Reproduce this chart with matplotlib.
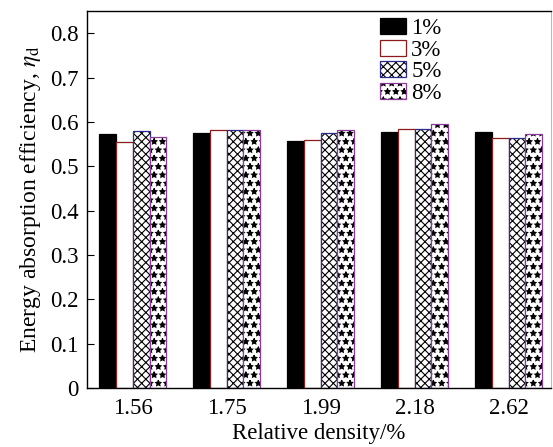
import numpy as np
import matplotlib
matplotlib.use('Agg')
import matplotlib.pyplot as plt

plt.rcParams['font.family'] = ['Liberation Serif', 'DejaVu Serif']
plt.rcParams['mathtext.fontset'] = 'stix'
plt.rcParams['hatch.linewidth'] = 0.8

# data
densities = ['1.56', '1.75', '1.99', '2.18', '2.62']
contents = ['1%', '3%', '5%', '8%']
eff_1 = [0.574, 0.575, 0.557, 0.578, 0.578]
eff_3 = [0.555, 0.583, 0.560, 0.585, 0.564]
eff_5 = [0.580, 0.583, 0.575, 0.585, 0.564]
eff_8 = [0.567, 0.581, 0.583, 0.595, 0.574]
series = [eff_1, eff_3, eff_5, eff_8]

# face, hatch, edge colour per series
styles = [
    ('black', '', 'black'),
    ('white', '', '#8b1a1a'),
    ('white', 'xxxx', '#2b2b8c'),
    ('white', '**', '#8a3a9a'),
]

fig = plt.figure(figsize=(5.53, 4.47), dpi=100)
ax = fig.add_axes([0.157, 0.132, 0.839, 0.843])

x = np.arange(len(densities))
w = 0.178
handles = []
for i, (vals, (fc, hatch, ec)) in enumerate(zip(series, styles)):
    pos = x + (i - 1.5) * w
    # hatch drawn in black, coloured outline drawn on top
    b1 = ax.bar(pos, vals, w, color=fc, hatch=hatch, edgecolor='black', linewidth=0)
    b2 = ax.bar(pos, vals, w, fill=False, edgecolor=ec, linewidth=0.9)
    handles.append((b1[0], b2[0]))

ax.set_xlim(-0.49, 4.45)
ax.set_ylim(0, 0.85)
ax.set_yticks(np.arange(0, 0.81, 0.1))
ax.set_yticklabels(['0'] + ['%.1f' % v for v in np.arange(0.1, 0.81, 0.1)])
ax.set_xticks(x)
ax.set_xticklabels(densities)
ax.tick_params(axis='y', direction='in', length=5, labelsize=16.5, pad=6)
ax.tick_params(axis='x', length=0, labelsize=16.5, pad=7)
ax.spines['right'].set_color('#bbbbbb')
for s in ['left', 'bottom', 'top']:
    ax.spines[s].set_linewidth(1.0)

ax.set_xlabel('Relative density/%', fontsize=16.5, labelpad=3)
ax.set_ylabel('Energy absorption efficiency, $\\eta_\\mathrm{d}$', fontsize=17, labelpad=5)

ax.legend(handles, contents, loc='upper left', bbox_to_anchor=(0.603, 1.018),
          frameon=False, fontsize=16.5, handlelength=1.1, handleheight=0.7,
          handletextpad=0.25, labelspacing=0.02, borderaxespad=0.2)

fig.savefig('out.png', dpi=100)
